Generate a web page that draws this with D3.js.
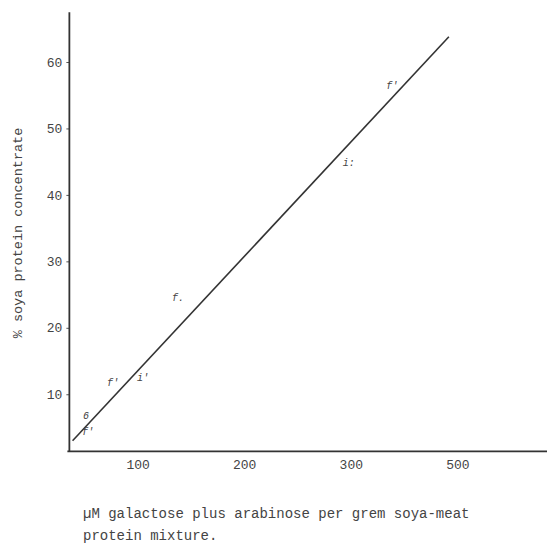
<!DOCTYPE html>
<html>
<head>
<meta charset="utf-8">
<script src="https://cdn.jsdelivr.net/npm/d3@7"></script>
<style>
  html, body { margin: 0; padding: 0; background: #fff; }
  svg { display: block; }
  text { font-family: "Liberation Mono", "DejaVu Sans Mono", monospace; fill: #444; }
</style>
</head>
<body>
<svg id="chart" width="547" height="544"></svg>
<script>
// Data
const xTickValues = [100, 200, 300, 400];
const xTickLabels = ["100", "200", "300", "500"];
const yTickValues = [10, 20, 30, 40, 50, 60];
const yTickLabels = ["10", "20", "30", "40", "50", "60"];
const pointX = [51.6, 53.5, 77, 105, 138, 298, 339];
const pointY = [6.7, 4.2, 11.6, 12.4, 24.4, 44.8, 56.3];
const pointGlyph = ["6", "f'", "f'", "i'", "f.", "i:", "f'"];
const fitX = [39, 392];
const fitY = [3, 63.8];
const xTitleLines = ["\u00b5M galactose plus arabinose per grem soya-meat", "protein mixture."];
const yTitle = "% soya protein concentrate";

const svg = d3.select("#chart");
const x = d3.scaleLinear().domain([0, 500]).range([31, 564]);
const y = d3.scaleLinear().domain([0, 70]).range([460.7, -4.45]);

const axisX0 = 36, axisY0 = 1.4, axisYTop = 67.5;

// x axis
const gx = svg.append("g").attr("transform", `translate(0,${y(axisY0)})`)
  .call(d3.axisBottom(x).tickValues(xTickValues).tickSize(0).tickPadding(8)
    .tickFormat((d, i) => xTickLabels[i]));
gx.select(".domain").remove();
gx.selectAll("text").style("font-size", "13px").attr("fill", "#555");
svg.append("line")
  .attr("x1", x(axisX0) - 2).attr("x2", 547)
  .attr("y1", y(axisY0)).attr("y2", y(axisY0))
  .attr("stroke", "#333").attr("stroke-width", 1.8);

// y axis
const gy = svg.append("g").attr("transform", `translate(${x(axisX0)},0)`)
  .call(d3.axisLeft(y).tickValues(yTickValues).tickSize(3).tickPadding(4)
    .tickFormat((d, i) => yTickLabels[i]));
gy.select(".domain").remove();
gy.selectAll("line").attr("stroke", "#555");
gy.selectAll("text").style("font-size", "13px").attr("fill", "#555");
svg.append("line")
  .attr("x1", x(axisX0)).attr("x2", x(axisX0))
  .attr("y1", y(axisY0)).attr("y2", y(axisYTop))
  .attr("stroke", "#333").attr("stroke-width", 1.8);

// fitted line
const line = d3.line().x(d => x(d[0])).y(d => y(d[1]));
svg.append("path")
  .datum(fitX.map((v, i) => [v, fitY[i]]))
  .attr("d", line)
  .attr("fill", "none").attr("stroke", "#333").attr("stroke-width", 1.6);

// data point marks
svg.append("g").selectAll("text")
  .data(pointX.map((v, i) => ({ x: v, y: pointY[i], g: pointGlyph[i] })))
  .join("text")
  .attr("x", d => x(d.x)).attr("y", d => y(d.y))
  .attr("text-anchor", "middle").attr("dominant-baseline", "central")
  .style("font-size", "10px").style("font-style", "italic")
  .attr("fill", "#666")
  .text(d => d.g);

// y title
svg.append("text")
  .attr("transform", `translate(22,${233}) rotate(-90)`)
  .attr("text-anchor", "middle")
  .style("font-size", "13.5px")
  .attr("fill", "#555")
  .text(yTitle);

// x title
svg.append("g").selectAll("text")
  .data(xTitleLines)
  .join("text")
  .attr("x", 83).attr("y", (d, i) => 518 + i * 22)
  .style("font-size", "14px")
  .attr("fill", "#444")
  .text(d => d);
</script>
</body>
</html>
